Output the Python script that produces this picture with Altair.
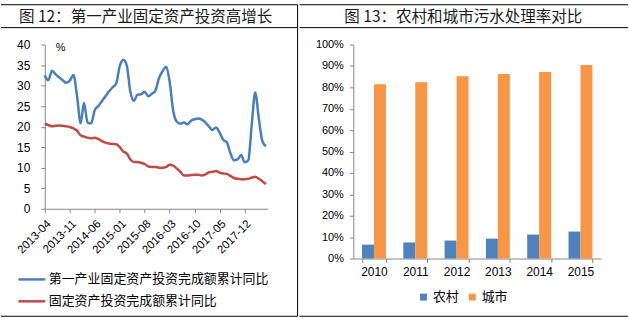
import altair as alt
import pandas as pd

FONT_CJK = "Noto Sans CJK SC"
FONT_NUM = "Liberation Sans"

# ---------------- left panel data ----------------
months = pd.date_range("2013-04-01", periods=63, freq="MS")
s1 = "第一产业固定资产投资完成额累计同比"
s2 = "固定资产投资完成额累计同比"
blue = [32.5, 31.3, 33.6, 32.8, 32.0, 31.3, 30.7, 31.2, 32.6,
        27.5, 20.8, 25.8, 21.0, 20.8, 24.0, 25.0, 26.2, 27.4, 28.6, 29.6, 30.5,
        34.8, 36.3, 35.0, 28.5, 26.3, 27.8, 27.9, 28.5, 27.4, 28.0, 28.8, 31.8,
        33.5, 34.6, 31.0, 23.8, 21.2, 20.7, 21.0, 20.6, 21.5, 21.8, 22.0, 21.7,
        21.0, 20.0, 19.2, 19.8, 18.6, 16.8, 16.2, 13.6, 11.8, 12.0, 13.1, 11.3,
        11.8, 21.0, 28.3, 22.0, 16.5, 15.2]
red = [20.7, 20.4, 20.1, 20.2, 20.3, 20.2, 20.1, 19.9, 19.6,
       19.0, 17.9, 17.6, 17.3, 17.2, 17.3, 17.0, 16.5, 16.1, 15.9, 15.8, 15.7,
       15.0, 13.9, 13.5, 12.0, 11.4, 11.4, 11.2, 10.9, 10.3, 10.2, 10.2, 10.0,
       10.0, 10.2, 10.7, 10.5, 9.8, 9.0, 8.1, 8.1, 8.2, 8.3, 8.3, 8.1,
       8.4, 8.9, 9.0, 9.2, 8.8, 8.6, 8.5, 8.0, 7.5, 7.3, 7.2, 7.2,
       7.3, 7.6, 7.8, 7.3, 6.7, 6.0]
tick_months = [(2013, 4), (2013, 11), (2014, 6), (2015, 1), (2015, 8),
               (2016, 3), (2016, 10), (2017, 5), (2017, 12)]
y_ticks_left = [0, 5, 10, 15, 20, 25, 30, 35, 40]

# ---------------- right panel data ----------------
years = ["2010", "2011", "2012", "2013", "2014", "2015"]
rural = [0.065, 0.075, 0.084, 0.093, 0.112, 0.126]
urban = [0.815, 0.824, 0.852, 0.862, 0.872, 0.904]
types = ["农村", "城市"]
y_ticks_right = [0, 0.1, 0.2, 0.3, 0.4, 0.5, 0.6, 0.7, 0.8, 0.9, 1.0]

df_line = pd.DataFrame({
    "date": list(months) * 2,
    "series": [s1] * len(blue) + [s2] * len(red),
    "value": blue + red,
})
df_bar = pd.DataFrame({
    "year": years * 2,
    "type": [types[0]] * 6 + [types[1]] * 6,
    "rate": rural + urban,
})
one = pd.DataFrame({"k": [0]})

AX = "#868686"

# ---------------- left panel ----------------
lines = alt.Chart(df_line).mark_line(strokeWidth=2.5, interpolate="monotone").encode(
    x=alt.X("date:T",
            scale=alt.Scale(domain=[alt.DateTime(year=2013, month=4, date=1),
                                    alt.DateTime(year=2018, month=6, date=16)]),
            axis=alt.Axis(values=[alt.DateTime(year=y, month=m, date=1) for y, m in tick_months],
                          format="%Y-%m", labelAngle=-45, title=None, grid=False,
                          labelOverlap=False,
                          domainColor=AX, tickColor=AX, tickSize=4, labelFont=FONT_NUM,
                          labelFontSize=11.5, labelColor="#000", labelPadding=5)),
    y=alt.Y("value:Q", scale=alt.Scale(domain=[0, 40]),
            axis=alt.Axis(values=y_ticks_left, title=None, grid=False, domainColor=AX,
                          tickColor=AX, tickSize=4, labelFont=FONT_NUM, labelFontSize=12,
                          labelColor="#000", labelPadding=11)),
    color=alt.Color("series:N", scale=alt.Scale(domain=[s1, s2], range=["#4A7EBB", "#BE4B48"]),
                    legend=alt.Legend(orient="none", legendX=-28, legendY=221, direction="vertical",
                                      title=None, symbolType="stroke", symbolSize=729,
                                      symbolStrokeWidth=2.5, labelFont=FONT_CJK, labelFontSize=13,
                                      labelColor="#000", labelLimit=400, labelOffset=2,
                                      rowPadding=-2)),
)

def rule(x1, x2, y1, y2):
    return alt.Chart(one).mark_rule(color="#000", strokeWidth=1).encode(
        x=alt.value(x1), x2=alt.value(x2), y=alt.value(y1), y2=alt.value(y2))

left_deco = [
    rule(-44, 254, -40, -40),
    rule(-44, 254, -17, -17),
    rule(-44, 254, 273, 273),
    rule(254, 254, -40, 273),
]
title1 = alt.Chart(one).mark_text(text="图 12：第一产业固定资产投资高增长", font=FONT_CJK, fontSize=15.6,
                                  align="left", baseline="middle", color="#1a1a1a").encode(
    x=alt.value(-26), y=alt.value(-28))
pct = alt.Chart(one).mark_text(text="%", font=FONT_NUM, fontSize=11, align="left",
                               baseline="middle", color="#000").encode(x=alt.value(11), y=alt.value(3))

left = alt.layer(lines, *left_deco, title1, pct).properties(width=224, height=165)

# ---------------- right panel ----------------
bars = alt.Chart(df_bar).mark_bar().encode(
    x=alt.X("year:N", scale=alt.Scale(paddingInner=0.42, paddingOuter=0.21),
            axis=alt.Axis(title=None, labelAngle=0, tickBand="extent", grid=False, domainColor=AX,
                          tickColor=AX, tickSize=4, labelFont=FONT_NUM, labelFontSize=12,
                          labelColor="#000", labelPadding=4)),
    xOffset=alt.XOffset("type:N", scale=alt.Scale(domain=types, paddingInner=0, paddingOuter=0)),
    y=alt.Y("rate:Q", scale=alt.Scale(domain=[0, 1]),
            axis=alt.Axis(values=y_ticks_right, format=".0%", title=None, grid=False,
                          domainColor=AX, tickColor=AX, tickSize=4, labelFont=FONT_NUM,
                          labelFontSize=11, labelColor="#000", labelPadding=6)),
    color=alt.Color("type:N", scale=alt.Scale(domain=types, range=["#4F81BD", "#F79646"]),
                    legend=alt.Legend(orient="none", direction="horizontal", legendX=64, legendY=247,
                                      title=None, symbolType="square", symbolSize=49,
                                      symbolStrokeWidth=0, labelFont=FONT_CJK, labelFontSize=13,
                                      labelColor="#000", labelOffset=3, columnPadding=6)),
)
right_deco = [
    rule(-54, 276, -40, -40),
    rule(-54, 276, -17, -17),
    rule(-54, 276, 273, 273),
]
title2 = alt.Chart(one).mark_text(text="图 13：农村和城市污水处理率对比", font=FONT_CJK, fontSize=15.6,
                                  align="left", baseline="middle", color="#1a1a1a").encode(
    x=alt.value(-9), y=alt.value(-28))

right = alt.layer(bars, *right_deco, title2).properties(width=249, height=215)

chart = alt.hconcat(left, right, spacing=0).resolve_scale(color="independent").properties(
    padding={"left": 0, "top": 3, "right": 0, "bottom": 0},
    background="white",
).configure_view(stroke=None)

chart.save("out.html", embed_options={"renderer": "svg", "actions": False})
